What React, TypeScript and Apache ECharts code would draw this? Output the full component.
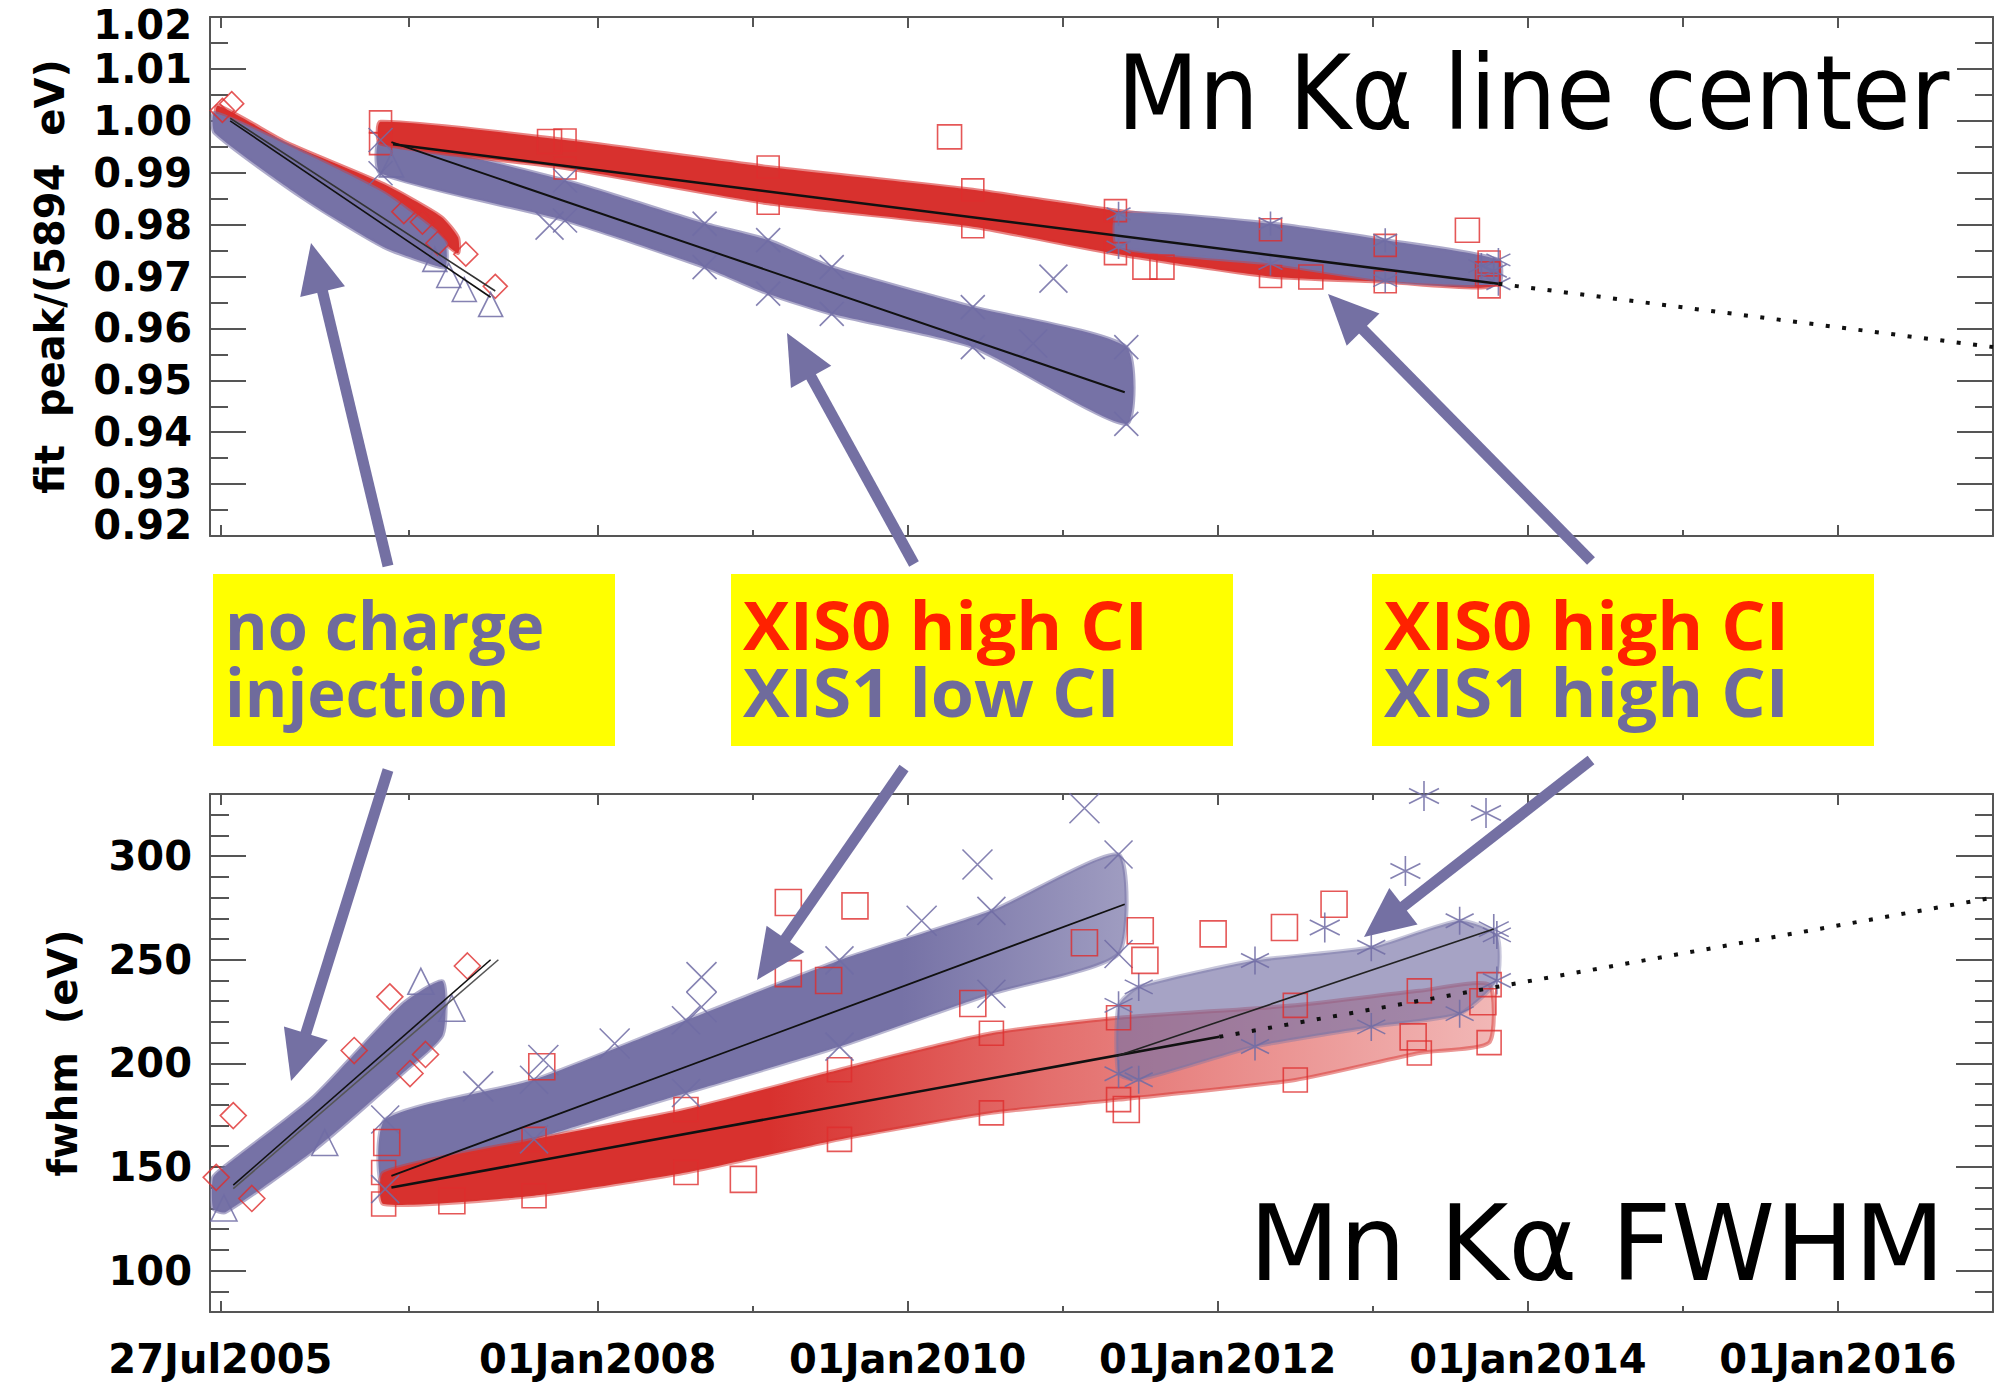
import React, { useEffect, useRef } from 'react';
import * as echarts from 'echarts';

// ---------------- axes / ticks ----------------
const xMin = 2005.5;
const xMax = 2017.0;
const xMajorTicks = [2005.567, 2008, 2010, 2012, 2014, 2016];
const xMajorLabels = ['27Jul2005', '01Jan2008', '01Jan2010', '01Jan2012', '01Jan2014', '01Jan2016'];
const xMinorTicks = [2006.784, 2009, 2011, 2013, 2015];

const yTopMin = 0.92;
const yTopMax = 1.02;
const yTopTicks = [0.92, 0.93, 0.94, 0.95, 0.96, 0.97, 0.98, 0.99, 1.0, 1.01, 1.02];
const yTopLabels = ['0.92', '0.93', '0.94', '0.95', '0.96', '0.97', '0.98', '0.99', '1.00', '1.01', '1.02'];
const yTopMinor = [0.925, 0.935, 0.945, 0.955, 0.965, 0.975, 0.985, 0.995, 1.005, 1.015];

const yBotMin = 80;
const yBotMax = 330;
const yBotTicks = [100, 150, 200, 250, 300];
const yBotLabels = ['100', '150', '200', '250', '300'];
const yBotMinor = [90, 110, 120, 130, 140, 160, 170, 180, 190, 210, 220, 230, 240, 260, 270, 280, 290, 310, 320];

// ---------------- top panel: line center ratio ----------------
// no charge injection, XIS0 (red diamonds) envelope
const topNoCiX0T = [2005.55, 2006.0, 2006.62, 2006.99, 2007.1];
const topNoCiX0Hi = [1.0029, 0.9957, 0.9878, 0.9815, 0.9775];
const topNoCiX0Lo = [0.999, 0.9925, 0.9845, 0.977, 0.9745];
// no charge injection, XIS1 (purple triangles) envelope
const topNoCiX1T = [2005.53, 2006.12, 2006.62, 2006.94, 2007.02];
const topNoCiX1Hi = [1.0015, 0.9936, 0.9861, 0.9791, 0.9765];
const topNoCiX1Lo = [0.9977, 0.9847, 0.9757, 0.9722, 0.9718];
// XIS1 low CI (purple X)
const topX1LowT = [2006.6, 2007.79, 2008.69, 2009.1, 2009.51, 2010.42, 2011.41];
const topX1LowHi = [0.9963, 0.9885, 0.9802, 0.977, 0.9718, 0.9641, 0.9564];
const topX1LowLo = [0.9899, 0.9808, 0.9718, 0.9667, 0.9628, 0.9564, 0.9416];
// XIS0 high CI (red squares)
const topX0HighT = [2006.6, 2007.79, 2009.1, 2010.42, 2011.34, 2012.34, 2013.08, 2013.75];
const topX0HighHi = [0.9998, 0.9963, 0.9911, 0.9867, 0.9827, 0.979, 0.976, 0.9728];
const topX0HighLo = [0.9956, 0.9909, 0.9841, 0.9796, 0.9744, 0.97, 0.969, 0.968];
// XIS1 high CI (purple asterisks)
const topX1HighT = [2011.36, 2012.34, 2013.08, 2013.81];
const topX1HighHi = [0.9821, 0.9802, 0.977, 0.9732];
const topX1HighLo = [0.9757, 0.9725, 0.9692, 0.9686];

const topRedSquares = [[2007.69, 0.996], [2010.27, 0.9969], [2011.53, 0.9718], [2011.64, 0.9718], [2012.6, 0.9699], [2013.61, 0.9789], [2013.74, 0.9705]];
const topPurpleX = [[2007.69, 0.9798], [2010.94, 0.9696], [2010.81, 0.9571]];
const topRedDiamonds = [[2005.64, 1.0033], [2005.58, 1.002], [2006.75, 0.9825], [2006.87, 0.9805], [2006.97, 0.9764], [2007.15, 0.9743], [2007.34, 0.9681]];
const topTriangles = [[2006.67, 0.9915], [2006.95, 0.9733], [2007.04, 0.9702], [2007.14, 0.9675], [2007.31, 0.9646]];
const topAsterisks = [[2013.7, 0.972], [2013.78, 0.9711]];

const topFitNoCiX0 = [[2005.63, 1.0005], [2007.34, 0.9672]];
const topFitNoCiX1 = [[2005.63, 1.0], [2007.31, 0.966]];
const topFitX1Low = [[2006.67, 0.9959], [2011.4, 0.9477]];
const topFitHigh = [[2006.68, 0.9955], [2013.81, 0.9686]];
const topFitExtrap = [[2013.81, 0.9686], [2017.0, 0.9564]];

// ---------------- bottom panel: FWHM (eV) ----------------
const botNoCiT = [2005.52, 2005.6, 2006.17, 2006.74, 2007.0];
const botNoCiHi = [145, 150.5, 183.9, 228.5, 239.6];
const botNoCiLo = [130, 128.2, 158.1, 195.1, 213.7];

const botX1LowT = [2006.63, 2007.59, 2008.57, 2009.56, 2010.54, 2011.36];
const botX1LowHi = [172.9, 192.1, 220.8, 249.7, 273.6, 300.8];
const botX1LowLo = [139.3, 163.3, 185.7, 208.1, 233.6, 252.8];

const botX0HighT = [2006.62, 2007.59, 2008.57, 2009.56, 2010.54, 2011.36, 2012.5, 2013.3, 2013.75];
const botX0HighHi = [147.3, 163.3, 177.7, 196.9, 214.5, 222.0, 228.0, 235.0, 238.0];
const botX0HighLo = [132.1, 136.1, 147.3, 163.3, 176.1, 182.5, 192.0, 205.0, 210.0];

const botX1HighT = [2011.36, 2011.49, 2012.24, 2012.99, 2013.56, 2013.8];
const botX1HighHi = [228, 236.9, 249.6, 256.0, 268.8, 262.0];
const botX1HighLo = [195, 192.1, 208.1, 217.6, 224.0, 240.0];

const botRedDiamonds = [[2005.54, 145], [2005.65, 174.8], [2005.77, 134.8], [2006.43, 206.2], [2006.66, 232.1], [2006.79, 195.1], [2006.89, 204.3], [2007.16, 247.0]];
const botTriangles = [[2005.59, 130.2], [2006.24, 161.8], [2006.86, 239.6], [2007.06, 226.6]];
const botRedSquares = [[2006.64, 161.8], [2007.06, 133.7], [2007.64, 198.4], [2008.94, 144.0], [2009.23, 277.6], [2009.66, 276.0], [2009.23, 243.3], [2009.49, 240.0], [2010.42, 228.9], [2011.14, 258.2], [2011.5, 264.0], [2011.53, 249.7], [2011.41, 177.7], [2011.97, 262.5], [2012.43, 265.6], [2012.75, 276.8], [2013.26, 212.8], [2013.71, 229.7]];
const botPurpleX = [[2007.23, 188.9], [2007.65, 201.6], [2008.11, 209.6], [2008.67, 227.2], [2008.67, 241.6], [2010.09, 268.8], [2010.45, 296.0], [2011.14, 323.1]];
const botAsterisks = [[2012.69, 265.6], [2013.21, 292.8], [2013.33, 329.0], [2013.73, 320.8], [2013.78, 264.8]];

const botFitNoCiX0 = [[2005.65, 139.5], [2007.36, 250]];
const botFitNoCiX1 = [[2005.65, 141.2], [2007.31, 250]];
const botFitX1Low = [[2006.67, 145.7], [2011.4, 276.8]];
const botFitX0 = [[2006.67, 140.1], [2012.01, 212.8]];
const botFitX0Extrap = [[2012.01, 212.8], [2017.0, 280.0]];
const botFitX1High = [[2011.34, 203.3], [2013.78, 264.8]];

// ---------------- styling ----------------
const RED = '#D8312E';
const RED_LINE = 'rgba(222,45,45,0.8)';
const PURPLE = '#7672A6';
const PURPLE_LINE = 'rgba(112,108,165,0.85)';
const AXIS = '#555555';
const AX_FONT = "'DejaVu Sans', 'Liberation Sans', sans-serif";
const BOX_FONT = "'Open Sans', 'Lato', sans-serif";
const TEXT_RED = '#FF2200';
const TEXT_PURPLE = '#6F6B9C';
const ARROW = '#7470A3';

const SYM_X = 'path://M0,0L10,10M10,0L0,10';
const SYM_AST = 'path://M5,0L5,10M0.7,2.5L9.3,7.5M0.7,7.5L9.3,2.5';

function near(a: number, b: number) {
  return Math.abs(a - b) < 1e-6;
}

function xAxisDef(gridIndex: number, position: string, ticks: number[], len: number, main: boolean, labels: boolean) {
  return {
    type: 'value', gridIndex, position, min: xMin, max: xMax,
    axisLine: { show: main, onZero: false, lineStyle: { color: AXIS, width: 2 } },
    axisTick: { show: true, inside: true, length: len, customValues: ticks, lineStyle: { color: AXIS, width: 2 } },
    axisLabel: labels
      ? {
          show: true, customValues: xMajorTicks, margin: 27, interval: 0,
          fontFamily: AX_FONT, fontWeight: 'bold', fontSize: 40, color: '#000',
          formatter: (v: number) => {
            const i = xMajorTicks.findIndex((t) => near(t, v));
            return i >= 0 ? xMajorLabels[i] : '';
          },
        }
      : { show: false },
    splitLine: { show: false },
  };
}

function yAxisDef(gridIndex: number, position: string, min: number, max: number, ticks: number[], len: number, main: boolean, labels: any, name?: string, nameGap?: number) {
  return {
    type: 'value', gridIndex, position, min, max,
    name: name || '', nameLocation: 'middle', nameGap: nameGap || 0,
    nameTextStyle: { fontFamily: AX_FONT, fontWeight: 'bold', fontSize: 40, color: '#000' },
    axisLine: { show: main, onZero: false, lineStyle: { color: AXIS, width: 2 } },
    axisTick: { show: true, inside: true, length: len, customValues: ticks, lineStyle: { color: AXIS, width: 2 } },
    axisLabel: labels || { show: false },
    splitLine: { show: false },
  };
}

const labelFont = { fontFamily: AX_FONT, fontWeight: 'bold', fontSize: 40, color: '#000' };

function band(xi: number, yi: number, t: number[], hi: number[], lo: number[], fill: any, stroke: string) {
  return {
    type: 'custom', xAxisIndex: xi, yAxisIndex: yi, clip: true, z: 2, silent: true,
    data: [[t[0], lo[0]]],
    renderItem: (_p: any, api: any) => {
      const top = t.map((tt, i) => api.coord([tt, hi[i]]));
      const bot = t.map((tt, i) => api.coord([tt, lo[i]])).reverse();
      return {
        type: 'polygon',
        shape: { points: top.concat(bot), smooth: 0.2 },
        style: { fill, stroke, lineWidth: 4 },
      };
    },
  };
}

function edges(t: number[], hi: number[], lo: number[]) {
  return t.map((tt, i) => [tt, hi[i]]).concat(t.map((tt, i) => [tt, lo[i]]));
}

function scat(xi: number, yi: number, data: number[][], symbol: string, size: number, color: string) {
  return {
    type: 'scatter', xAxisIndex: xi, yAxisIndex: yi, data, symbol, symbolSize: size, z: 3, silent: true,
    itemStyle: { color: 'rgba(0,0,0,0)', borderColor: color, borderWidth: 1.6, opacity: 1 },
  };
}

function fit(xi: number, yi: number, data: number[][], color: string, width: number, type: any = 'solid') {
  return {
    type: 'line', xAxisIndex: xi, yAxisIndex: yi, data, symbol: 'none', z: 5, silent: true,
    lineStyle: { color, width, type, cap: 'butt' },
  };
}

function hGrad(stops: [number, string][]) {
  return new echarts.graphic.LinearGradient(0, 0, 1, 0, stops.map(([offset, color]) => ({ offset, color })));
}

// ---------------- annotations (pixel space) ----------------
const arrows = [
  { from: [388, 566], to: [311, 243] },
  { from: [914, 564], to: [787, 333] },
  { from: [1591, 561], to: [1328, 294] },
  { from: [388, 770], to: [291, 1081] },
  { from: [904, 768], to: [757, 980] },
  { from: [1591, 760], to: [1364, 937] },
];

function arrowGraphics() {
  const out: any[] = [];
  arrows.forEach(({ from, to }) => {
    const dx = to[0] - from[0];
    const dy = to[1] - from[1];
    const L = Math.hypot(dx, dy);
    const ux = dx / L;
    const uy = dy / L;
    const headLen = 50;
    const half = 23;
    const bx = to[0] - ux * headLen;
    const by = to[1] - uy * headLen;
    out.push({
      type: 'line', z: 100,
      shape: { x1: from[0], y1: from[1], x2: bx + ux * 4, y2: by + uy * 4 },
      style: { stroke: ARROW, lineWidth: 11 },
    });
    out.push({
      type: 'polygon', z: 100,
      shape: { points: [[to[0], to[1]], [bx - uy * half, by + ux * half], [bx + uy * half, by - ux * half]] },
      style: { fill: ARROW },
    });
  });
  return out;
}

const boxes = [
  { x: 213, y: 574, w: 402, h: 172, size: 63, sx: 1.03, lines: [{ text: 'no charge', color: TEXT_PURPLE }, { text: 'injection', color: TEXT_PURPLE }] },
  { x: 731, y: 574, w: 502, h: 172, size: 63, sx: 1.11, lines: [{ text: 'XIS0 high CI', color: TEXT_RED }, { text: 'XIS1 low CI', color: TEXT_PURPLE }] },
  { x: 1372, y: 574, w: 502, h: 172, size: 63, sx: 1.11, lines: [{ text: 'XIS0 high CI', color: TEXT_RED }, { text: 'XIS1 high CI', color: TEXT_PURPLE }] },
];

function boxGraphics() {
  const out: any[] = [];
  boxes.forEach((b) => {
    out.push({ type: 'rect', z: 90, shape: { x: b.x, y: b.y, width: b.w, height: b.h }, style: { fill: '#FFFF00' } });
    const rich: any = {};
    b.lines.forEach((ln, i) => {
      rich['l' + i] = { fill: ln.color, fontFamily: BOX_FONT, fontWeight: 'bold', fontSize: b.size, lineHeight: 63 };
    });
    out.push({
      type: 'text', z: 91, x: b.x + 12, y: b.y + 17, scaleX: b.sx, scaleY: 1.06,
      style: {
        text: b.lines.map((ln, i) => `{l${i}|${ln.text}}`).join('\n'),
        rich, textAlign: 'left', textVerticalAlign: 'top',
      },
    });
  });
  return out;
}

function buildOption() {
  // inner labels on the main axis
  const mainTop = yTopTicks.slice(1, yTopTicks.length - 1);
  const topLabels = {
    show: true, customValues: mainTop, interval: 0, margin: 18, ...labelFont, lineHeight: 40,
    formatter: (v: number) => {
      const i = yTopTicks.findIndex((t) => near(t, v));
      return i >= 0 ? yTopLabels[i] : '';
    },
  };
  // end labels (0.92, 1.02) drawn by the minor axis, nudged inside the frame like the original
  const endTop = [yTopTicks[0], yTopTicks[yTopTicks.length - 1]];
  const topEndLabels = {
    show: true, customValues: endTop, interval: 0, margin: 18, ...labelFont,
    formatter: (v: number) => {
      const i = yTopTicks.findIndex((t) => near(t, v));
      if (i === yTopTicks.length - 1) return `{hi|${yTopLabels[i]}}`;
      if (i === 0) return `{lo|${yTopLabels[i]}}`;
      return '';
    },
    rich: {
      hi: { ...labelFont, lineHeight: 30, padding: [16, 0, 0, 0] },
      lo: { ...labelFont, lineHeight: 30, padding: [0, 0, 22, 0] },
    },
  };
  const botLabels = {
    show: true, customValues: yBotTicks, interval: 0, margin: 18, ...labelFont,
    formatter: (v: number) => {
      const i = yBotTicks.findIndex((t) => near(t, v));
      return i >= 0 ? yBotLabels[i] : '';
    },
  };

  const xAxis = [
    xAxisDef(0, 'bottom', xMajorTicks, 11, true, false),
    xAxisDef(0, 'bottom', xMinorTicks, 6, false, false),
    xAxisDef(0, 'top', xMajorTicks, 11, true, false),
    xAxisDef(0, 'top', xMinorTicks, 10, false, false),
    xAxisDef(1, 'bottom', xMajorTicks, 11, true, true),
    xAxisDef(1, 'bottom', xMinorTicks, 6, false, false),
    xAxisDef(1, 'top', xMajorTicks, 11, true, false),
    xAxisDef(1, 'top', xMinorTicks, 6, false, false),
  ];
  const yAxis = [
    yAxisDef(0, 'left', yTopMin, yTopMax, yTopTicks, 36, true, topLabels, 'fit  peak/(5894  eV)', 140),
    yAxisDef(0, 'left', yTopMin, yTopMax, yTopMinor, 18, false, topEndLabels),
    yAxisDef(0, 'right', yTopMin, yTopMax, yTopTicks, 36, true, null),
    yAxisDef(0, 'right', yTopMin, yTopMax, yTopMinor, 18, false, null),
    yAxisDef(1, 'left', yBotMin, yBotMax, yBotTicks, 36, true, botLabels, 'fwhm  (eV)', 127),
    yAxisDef(1, 'left', yBotMin, yBotMax, yBotMinor, 19, false, null),
    yAxisDef(1, 'right', yBotMin, yBotMax, yBotTicks, 37, true, null),
    yAxisDef(1, 'right', yBotMin, yBotMax, yBotMinor, 18, false, null),
  ];

  const series: any[] = [
    // ---- top panel ----
    band(0, 0, topNoCiX0T, topNoCiX0Hi, topNoCiX0Lo, RED, 'rgba(216,49,46,0.6)'),
    band(0, 0, topNoCiX1T, topNoCiX1Hi, topNoCiX1Lo, PURPLE, 'rgba(118,114,166,0.6)'),
    band(0, 0, topX1LowT, topX1LowHi, topX1LowLo, PURPLE, 'rgba(118,114,166,0.6)'),
    band(0, 0, topX0HighT, topX0HighHi, topX0HighLo, RED, 'rgba(216,49,46,0.6)'),
    band(0, 0, topX1HighT, topX1HighHi, topX1HighLo, PURPLE, 'rgba(118,114,166,0.6)'),
    scat(0, 0, edges(topX0HighT, topX0HighHi, topX0HighLo), 'rect', 22, RED_LINE),
    scat(0, 0, edges(topX1LowT, topX1LowHi, topX1LowLo), SYM_X, 24, PURPLE_LINE),
    scat(0, 0, edges(topX1HighT, topX1HighHi, topX1HighLo), SYM_AST, 24, PURPLE_LINE),
    scat(0, 0, topRedSquares, 'rect', 24, RED_LINE),
    scat(0, 0, topPurpleX, SYM_X, 28, PURPLE_LINE),
    scat(0, 0, topRedDiamonds, 'diamond', 24, RED_LINE),
    scat(0, 0, topTriangles, 'triangle', 24, PURPLE_LINE),
    scat(0, 0, topAsterisks, SYM_AST, 26, PURPLE_LINE),
    fit(0, 0, topFitNoCiX0, '#333', 1.6),
    fit(0, 0, topFitNoCiX1, '#111', 1.6),
    fit(0, 0, topFitX1Low, '#111', 2),
    fit(0, 0, topFitHigh, '#111', 2.5),
    fit(0, 0, topFitExtrap, '#111', 4, [4, 12.5]),
    // ---- bottom panel ----
    band(4, 4, botNoCiT, botNoCiHi, botNoCiLo, PURPLE, 'rgba(118,114,166,0.6)'),
    band(4, 4, botX1LowT, botX1LowHi, botX1LowLo,
      hGrad([[0, PURPLE], [0.7, PURPLE], [1, 'rgba(118,114,166,0.7)']]), 'rgba(118,114,166,0.5)'),
    band(4, 4, botX0HighT, botX0HighHi, botX0HighLo,
      hGrad([[0, RED], [0.35, RED], [0.6, 'rgba(216,49,46,0.7)'], [1, 'rgba(216,49,46,0.35)']]), 'rgba(216,49,46,0.5)'),
    band(4, 4, botX1HighT, botX1HighHi, botX1HighLo, 'rgba(118,114,166,0.65)', 'rgba(118,114,166,0.4)'),
    scat(4, 4, edges(botX0HighT, botX0HighHi, botX0HighLo), 'rect', 24, RED_LINE),
    scat(4, 4, edges(botX1LowT, botX1LowHi, botX1LowLo), SYM_X, 28, PURPLE_LINE),
    scat(4, 4, edges(botX1HighT, botX1HighHi, botX1HighLo), SYM_AST, 28, PURPLE_LINE),
    scat(4, 4, botRedDiamonds, 'diamond', 26, RED_LINE),
    scat(4, 4, botTriangles, 'triangle', 26, PURPLE_LINE),
    scat(4, 4, botRedSquares, 'rect', 26, RED_LINE),
    scat(4, 4, botPurpleX, SYM_X, 30, PURPLE_LINE),
    scat(4, 4, botAsterisks, SYM_AST, 30, PURPLE_LINE),
    fit(4, 4, botFitNoCiX0, '#555', 1.6),
    fit(4, 4, botFitNoCiX1, '#111', 1.6),
    fit(4, 4, botFitX1Low, '#111', 1.8),
    fit(4, 4, botFitX0, '#111', 2.6),
    fit(4, 4, botFitX0Extrap, '#111', 4, [4, 12.5]),
    fit(4, 4, botFitX1High, '#222', 1.6),
  ];

  const graphic: any[] = [
    ...boxGraphics(),
    ...arrowGraphics(),
    {
      type: 'text', z: 95, x: 1117, y: 93, scaleX: 0.92,
      style: { text: 'Mn K\u03b1 line center', fill: '#000', font: `normal 103px 'DejaVu Sans', sans-serif`, textAlign: 'left', textVerticalAlign: 'middle' },
    },
    {
      type: 'text', z: 95, x: 1249, y: 1244, scaleX: 1.0,
      style: { text: 'Mn K\u03b1 FWHM', fill: '#000', font: `normal 105px 'DejaVu Sans', sans-serif`, textAlign: 'left', textVerticalAlign: 'middle' },
    },
  ];

  return {
    animation: false,
    backgroundColor: '#ffffff',
    grid: [
      { left: 210, top: 17, width: 1783, height: 519, containLabel: false, outerBoundsMode: 'none' },
      { left: 210, top: 794, width: 1783, height: 518, containLabel: false, outerBoundsMode: 'none' },
    ],
    xAxis,
    yAxis,
    series,
    graphic,
  };
}

export default function App() {
  const ref = useRef<HTMLDivElement>(null);
  useEffect(() => {
    const chart = echarts.init(ref.current as HTMLDivElement, null, { renderer: 'svg' });
    chart.setOption(buildOption() as any);
    return () => chart.dispose();
  }, []);
  return (
    <div
      ref={ref}
      style={{ position: 'fixed', left: 0, top: 0, width: 1996, height: 1386, background: '#ffffff' }}
    />
  );
}
